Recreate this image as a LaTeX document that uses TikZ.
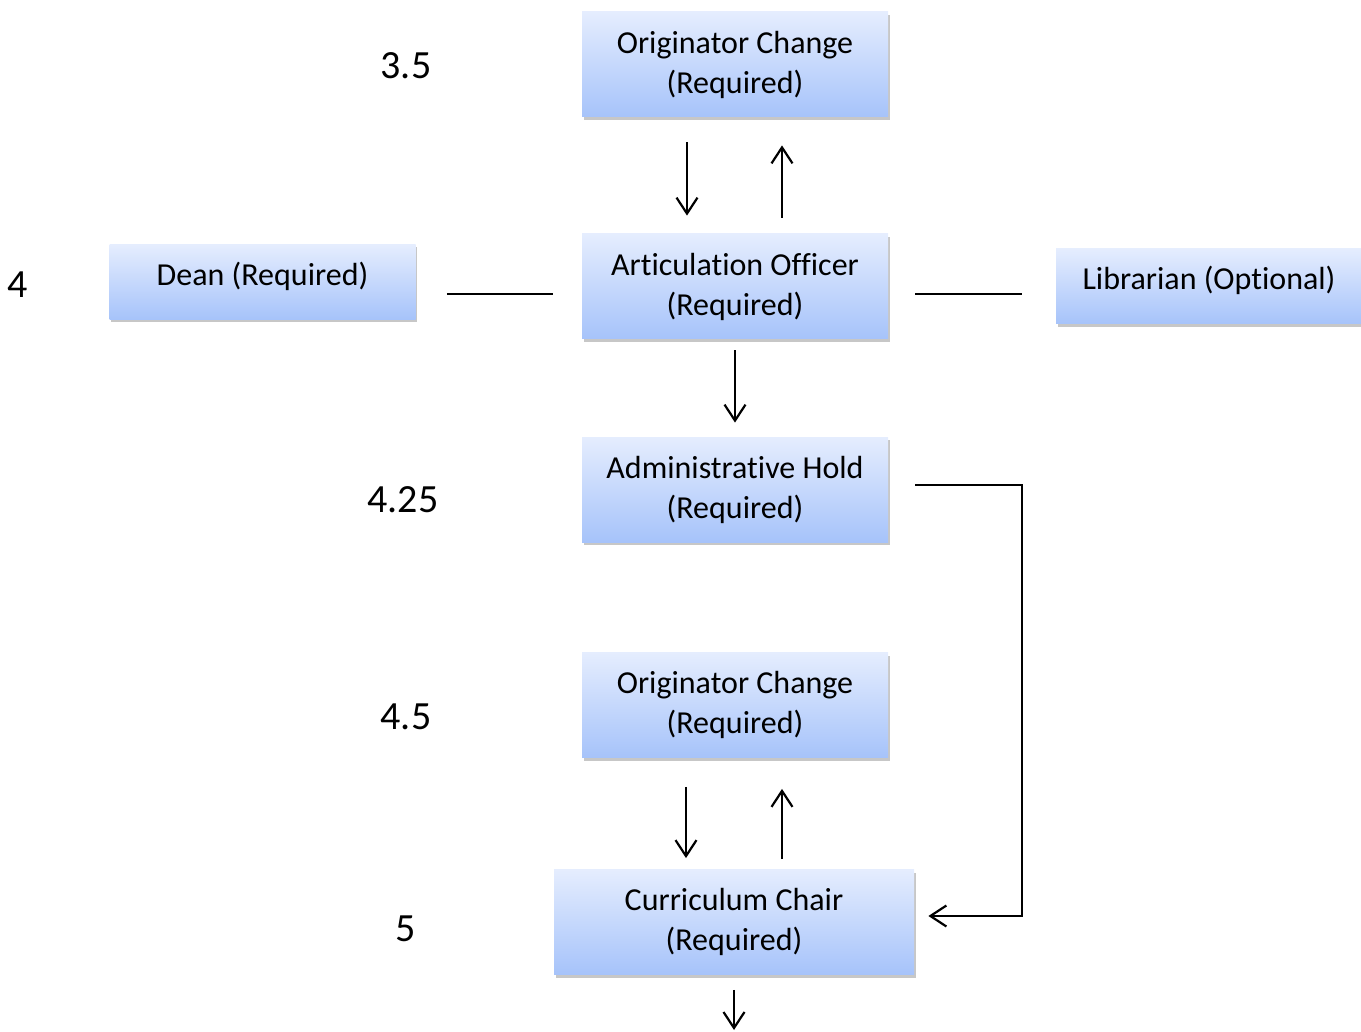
\documentclass[tikz,border=0pt]{standalone}
\usepackage{fontspec}
\setmainfont{Carlito}[Ligatures=NoCommon]
\usetikzlibrary{arrows.meta, positioning, shadows}
\definecolor{boxtop}{RGB}{229,237,254}
\definecolor{boxbottom}{RGB}{166,195,250}
\tikzset{
  rolenode/.style={top color=boxtop, bottom color=boxbottom, minimum width=153pt, minimum height=52.5pt, inner sep=2pt, align=center, font=\fontsize{16}{20}\selectfont, drop shadow={shadow xshift=0.8pt, shadow yshift=-1.5pt, opacity=0.22, fill=black}},
  flatnode/.style={rolenode, minimum height=37.5pt, text depth=8.5pt},
  levelnum/.style={font=\fontsize{20}{24}\selectfont, inner sep=0pt},
  flowarrow/.style={-{Straight Barb[length=8pt,width=10.5pt]}, line width=1.1pt},
  plainlink/.style={line width=0.8pt},
}
\begin{document}
\begin{tikzpicture}[x=0.5pt, y=-0.5pt]
  \useasboundingbox (0,0) rectangle (1361,1032);
  % boxes
  \node[rolenode] (oc1) at (735,64.5) {Originator Change\\(Required)};
  \node[rolenode] (ao) at (735,286.5) {Articulation Officer\\(Required)};
  \node[flatnode] (dean) at (262.5,282) {Dean (Required)};
  \node[flatnode] (lib) at (1209,286.5) {Librarian (Optional)};
  \node[rolenode] (ah) at (735,489.5) {Administrative Hold\\(Required)};
  \node[rolenode] (oc2) at (735,705) {Originator Change\\(Required)};
  \node[rolenode, minimum width=180pt] (cc) at (734,922) {Curriculum Chair\\(Required)};
  % level numbers
  \node[levelnum] (n35) at (406,66) {3.5};
  \node[levelnum] (n4) at (18,285) {4};
  \node[levelnum] (n425) at (403,500) {4.25};
  \node[levelnum] (n45) at (406,717) {4.5};
  \node[levelnum] (n5) at (406,929) {5};
  \coordinate (rturn) at (1022,0);
  \coordinate (exit) at (734,1030);
  % connectors
  \draw[flowarrow, shorten <=12.5pt, shorten >=9pt] ([xshift=-24pt]oc1.south) -- ([xshift=-24pt]ao.north);
  \draw[flowarrow, shorten <=8pt, shorten >=14pt] ([xshift=23.5pt]ao.north) -- ([xshift=23.5pt]oc1.south);
  \draw[plainlink, shorten <=15.5pt, shorten >=14.5pt] ([yshift=-6pt]dean.east) -- ([yshift=-6pt]dean.east -| ao.west);
  \draw[plainlink, shorten <=13.5pt, shorten >=17pt] ([yshift=-3.75pt]ao.east) -- ([yshift=-3.75pt]ao.east -| lib.west);
  \draw[flowarrow, shorten <=5.5pt, shorten >=7pt] (ao.south) -- (ah.north);
  \draw[flowarrow] ([shift={(13.5pt,2.25pt)}]ah.east) -- ([yshift=2.25pt]ah.east -| rturn) |- ([shift={(7pt,3pt)}]cc.east);
  \draw[flowarrow, shorten <=14.5pt, shorten >=5.5pt] ([xshift=-24.5pt]oc2.south) -- ([xshift=-24pt]cc.north);
  \draw[flowarrow, shorten <=5pt, shorten >=15.5pt] ([xshift=24pt]cc.north) -- ([xshift=23.5pt]oc2.south);
  \draw[flowarrow, shorten <=7.5pt] (cc.south) -- (exit);
\end{tikzpicture}
\end{document}
